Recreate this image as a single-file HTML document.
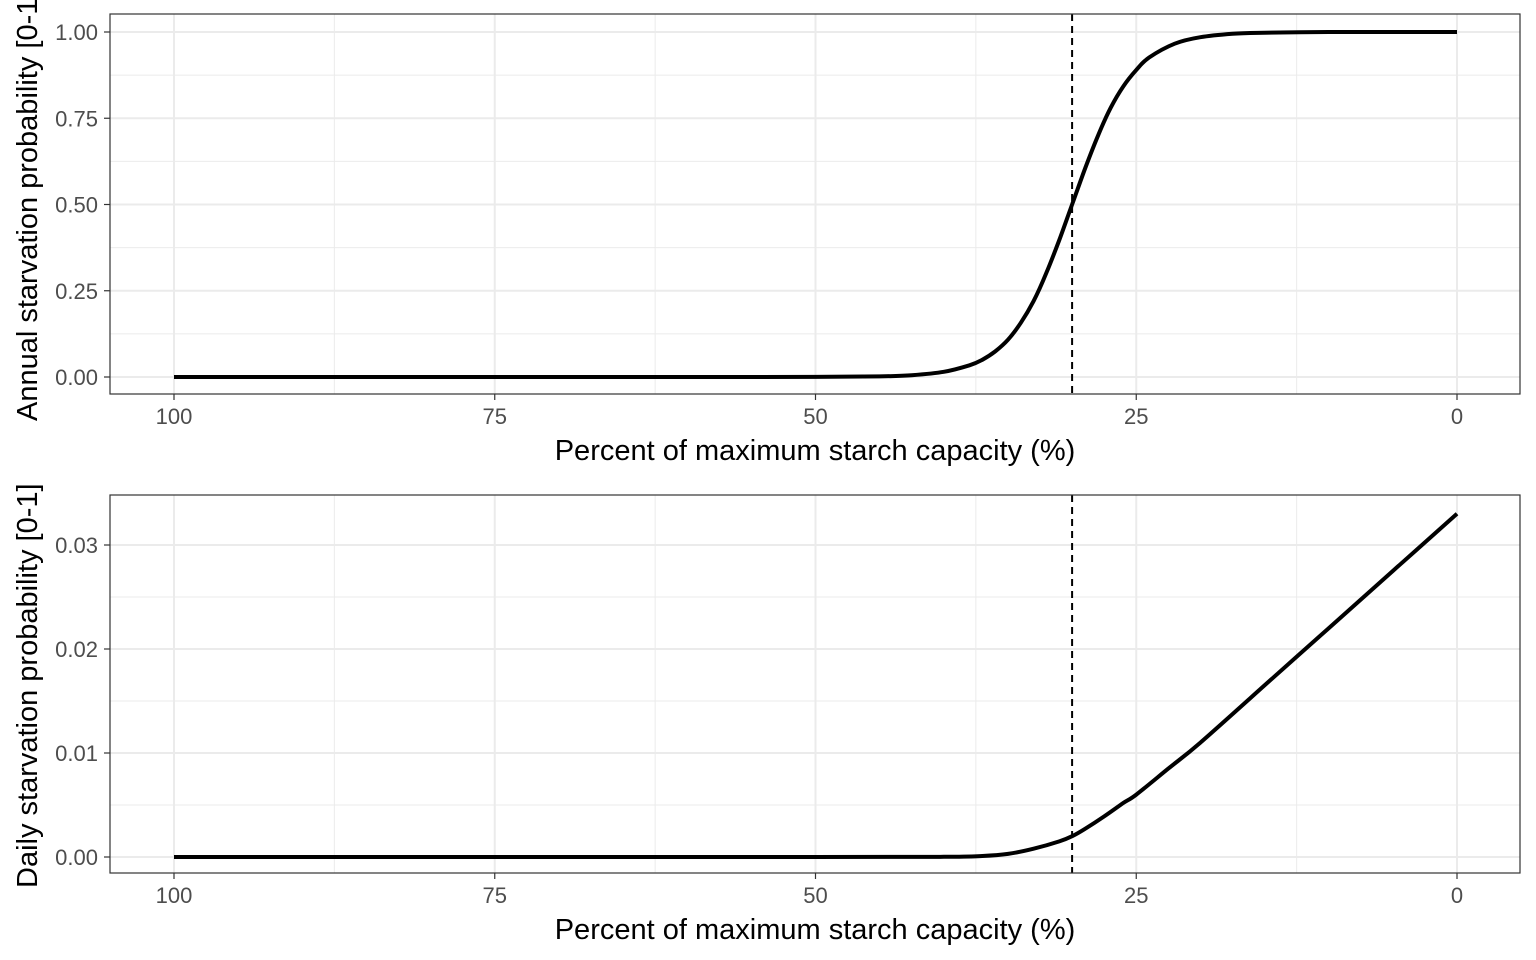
<!DOCTYPE html>
<html><head><meta charset="utf-8"><style>
html,body{margin:0;padding:0;background:#fff;}
svg{display:block;font-family:"Liberation Sans",Arial,sans-serif;}
</style></head><body>
<svg id="chart" width="1536" height="960"></svg>
<script>
const xVals = [100, 75, 60, 50, 45, 42.5, 40, 38, 37, 36, 35, 34, 33, 32, 31, 30, 29, 28, 27, 26, 25, 24, 22, 20, 17.5, 15, 10, 0];
const annualVals = [0, 0, 0, 0.0002, 0.0018, 0.0052, 0.015, 0.034, 0.05, 0.074, 0.108, 0.157, 0.22, 0.302, 0.397, 0.5, 0.603, 0.698, 0.78, 0.843, 0.89, 0.926, 0.966, 0.985, 0.995, 0.998, 1.0, 1.0];
const dailyX = [100, 75, 50, 40, 37, 35, 33, 31, 30, 29, 27.5, 26, 25, 22.5, 20, 15, 10, 5, 0];
const dailyVals = [0, 0, 0, 0.00002, 0.0001, 0.0003, 0.0008, 0.0015, 0.002, 0.0027, 0.0039, 0.0052, 0.006, 0.0085, 0.011, 0.0165, 0.022, 0.0275, 0.033];
const xTicks = [100, 75, 50, 25, 0];
const xMinor = [87.5, 62.5, 37.5, 12.5];
const annualTicks = [0, 0.25, 0.5, 0.75, 1.0];
const annualTickLabels = ["0.00", "0.25", "0.50", "0.75", "1.00"];
const annualMinor = [0.125, 0.375, 0.625, 0.875];
const dailyTicks = [0, 0.01, 0.02, 0.03];
const dailyTickLabels = ["0.00", "0.01", "0.02", "0.03"];
const dailyMinor = [0.005, 0.015, 0.025];
const threshold = 30;

const svg = document.getElementById('chart');
const NS = 'http://www.w3.org/2000/svg';
function mk(tag, attrs, parent) {
  const e = document.createElementNS(NS, tag);
  for (const k in attrs) e.setAttribute(k, attrs[k]);
  (parent || svg).appendChild(e);
  return e;
}
const xScale = v => 174 + (100 - v) * (1457 - 174) / 100;

function smoothPath(pts) {
  let d = 'M' + pts[0][0].toFixed(1) + ',' + pts[0][1].toFixed(1);
  for (let i = 0; i < pts.length - 1; i++) {
    const p0 = pts[Math.max(0, i - 1)], p1 = pts[i], p2 = pts[i + 1], p3 = pts[Math.min(pts.length - 1, i + 2)];
    const c1x = p1[0] + (p2[0] - p0[0]) / 6, c1y = p1[1] + (p2[1] - p0[1]) / 6;
    const c2x = p2[0] - (p3[0] - p1[0]) / 6, c2y = p2[1] - (p3[1] - p1[1]) / 6;
    d += ' C' + c1x.toFixed(1) + ',' + c1y.toFixed(1) + ' ' + c2x.toFixed(1) + ',' + c2y.toFixed(1) + ' ' + p2[0].toFixed(1) + ',' + p2[1].toFixed(1);
  }
  return d;
}

function panel(name, top, bottom, yScale, ticks, tickLabels, minor, xs, ys, ylabel, ylabelY) {
  const g = mk('g', {});
  
  
  mk('rect', {x: 110, y: top, width: 1410, height: bottom - top, fill: '#fff'}, g);
  minor.forEach(v => mk('line', {x1: 110, x2: 1520, y1: yScale(v), y2: yScale(v), stroke: '#ebebeb', 'stroke-width': 1}, g));
  xMinor.forEach(v => mk('line', {x1: xScale(v), x2: xScale(v), y1: top, y2: bottom, stroke: '#ebebeb', 'stroke-width': 1}, g));
  ticks.forEach(v => mk('line', {x1: 110, x2: 1520, y1: yScale(v), y2: yScale(v), stroke: '#ebebeb', 'stroke-width': 2}, g));
  xTicks.forEach(v => mk('line', {x1: xScale(v), x2: xScale(v), y1: top, y2: bottom, stroke: '#ebebeb', 'stroke-width': 2}, g));
  const dl = mk('line', {x1: xScale(threshold), x2: xScale(threshold), y1: top, y2: bottom, stroke: '#000', 'stroke-width': 2, 'stroke-dasharray': '7,5'}, g);
  
  
  const pts = xs.map((x, i) => [xScale(x), yScale(ys[i])]);
  const p = mk('path', {d: smoothPath(pts), fill: 'none', stroke: '#000', 'stroke-width': 4, 'stroke-linejoin': 'round'}, g);
  
  
  mk('rect', {x: 110, y: top, width: 1410, height: bottom - top, fill: 'none', stroke: '#333', 'stroke-width': 1.2}, g);
  ticks.forEach((v, i) => {
    mk('line', {x1: 104, x2: 110, y1: yScale(v), y2: yScale(v), stroke: '#333', 'stroke-width': 1.2}, g);
    const t = mk('text', {x: 98, y: yScale(v) + 8, 'text-anchor': 'end', 'font-size': 22, fill: '#4d4d4d'}, g);
    t.textContent = tickLabels[i];
    
    
  });
  xTicks.forEach(v => {
    mk('line', {x1: xScale(v), x2: xScale(v), y1: bottom, y2: bottom + 6, stroke: '#333', 'stroke-width': 1.2}, g);
    const t = mk('text', {x: xScale(v), y: bottom + 30, 'text-anchor': 'middle', 'font-size': 22, fill: '#4d4d4d'}, g);
    t.textContent = v;
    
    
  });
  const xt = mk('text', {x: 815, y: bottom + 66, 'text-anchor': 'middle', 'font-size': 29, fill: '#000'}, g);
  xt.textContent = 'Percent of maximum starch capacity (%)';
  
  
  const yt = mk('text', {x: 0, y: 0, 'text-anchor': 'start', 'font-size': 29, fill: '#000', transform: 'translate(37,' + ylabelY + ') rotate(-90)'}, g);
  yt.textContent = ylabel;
  
  
}

panel('annual', 14, 394, v => 377 - v * 345, annualTicks, annualTickLabels, annualMinor, xVals, annualVals, 'Annual starvation probability [0-1]', 421);
panel('daily', 495, 873, v => 857 - v * 10400, dailyTicks, dailyTickLabels, dailyMinor, dailyX, dailyVals, 'Daily starvation probability [0-1]', 888);
</script>
</body></html>
